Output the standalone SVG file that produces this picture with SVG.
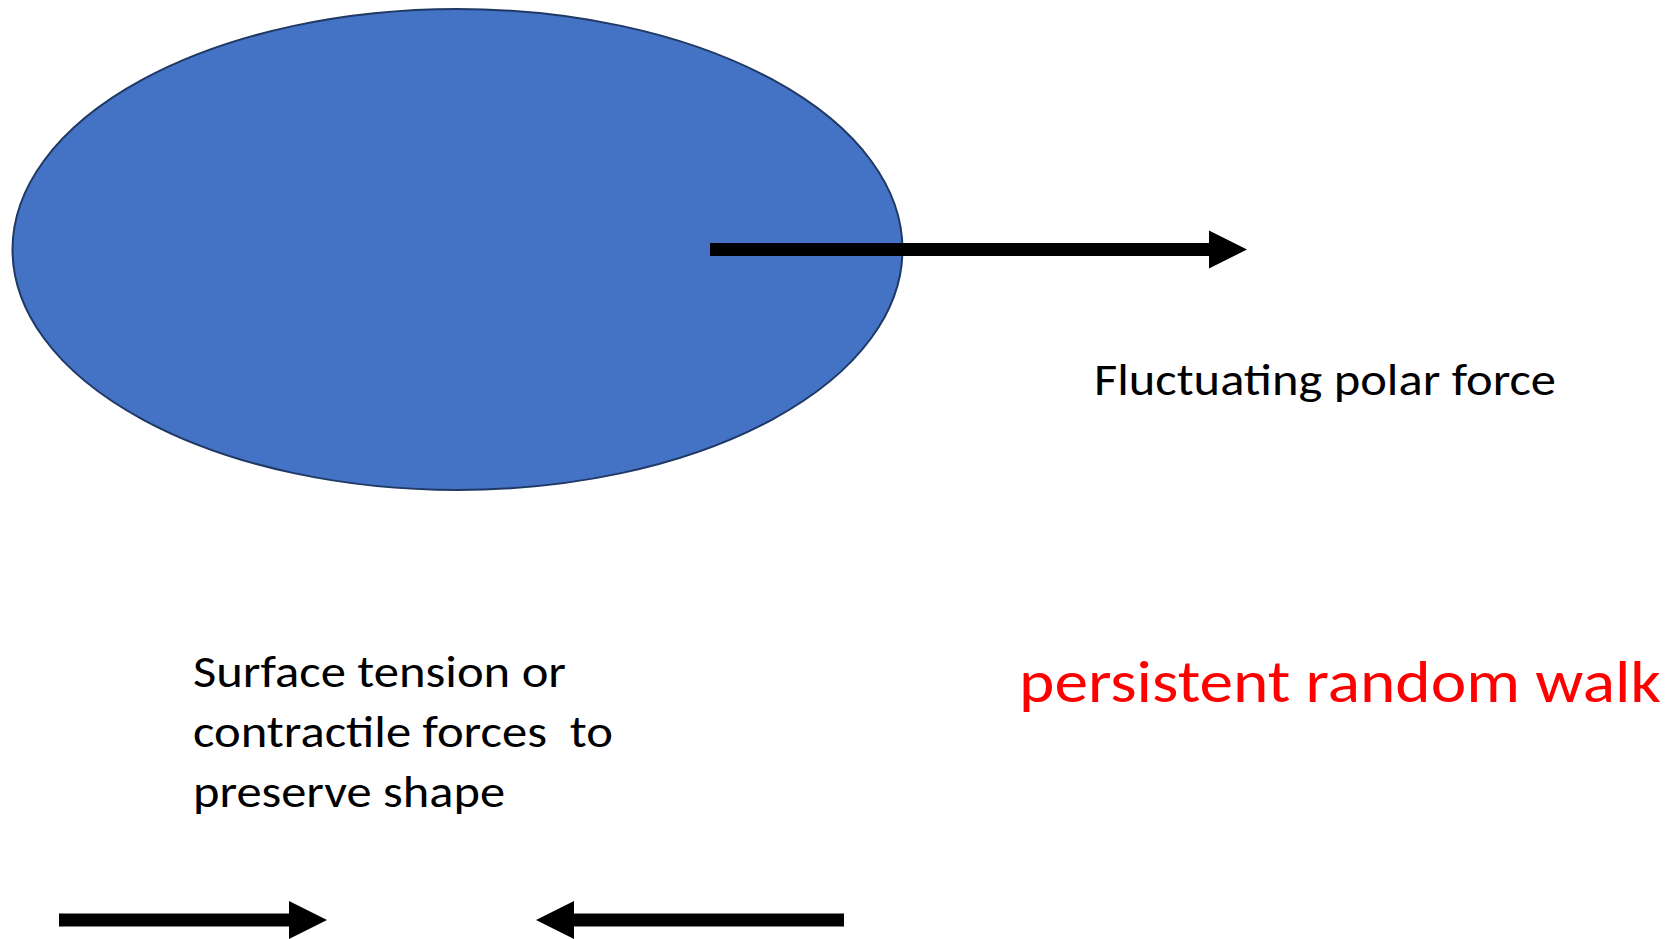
<svg xmlns="http://www.w3.org/2000/svg" width="1675" height="939" viewBox="0 0 1675 939">
<style>
.lbl{font-family:Carlito,Lato,"Liberation Sans",sans-serif;fill:#000;white-space:pre}
.big{font-size:45px}
.red{font-size:60px;fill:#FF0000}
.arrow{fill:#000}
</style>
<rect width="1675" height="939" fill="#fff"/>
<g id="cell">
<ellipse cx="457.5" cy="249.5" rx="445" ry="240.5" fill="#4472C4" stroke="#1F3864" stroke-width="2"/>
</g>
<g id="connectors">
<polygon class="arrow" points="710,243 1209,243 1209,230.5 1247,249.5 1209,268.5 1209,256 710,256"/>
<polygon class="arrow" points="59,913.5 289,913.5 289,901 327,920 289,939 289,926.5 59,926.5"/>
<polygon class="arrow" points="844,913.5 574,913.5 574,901 536,920 574,939 574,926.5 844,926.5"/>
</g>
<g id="label-polar">
<text class="lbl big" x="1094" y="395" textLength="462" lengthAdjust="spacingAndGlyphs">Fluctuating polar force</text>
</g>
<g id="label-surface">
<text class="lbl big" x="193" y="687" textLength="373" lengthAdjust="spacingAndGlyphs">Surface tension or</text>
<text class="lbl big" x="193" y="747" textLength="420" lengthAdjust="spacingAndGlyphs">contractile forces  to</text>
<text class="lbl big" x="193" y="807" textLength="312" lengthAdjust="spacingAndGlyphs">preserve shape</text>
</g>
<g id="label-walk">
<text class="lbl red" x="1019" y="702" textLength="642" lengthAdjust="spacingAndGlyphs">persistent random walk</text>
</g>
</svg>
